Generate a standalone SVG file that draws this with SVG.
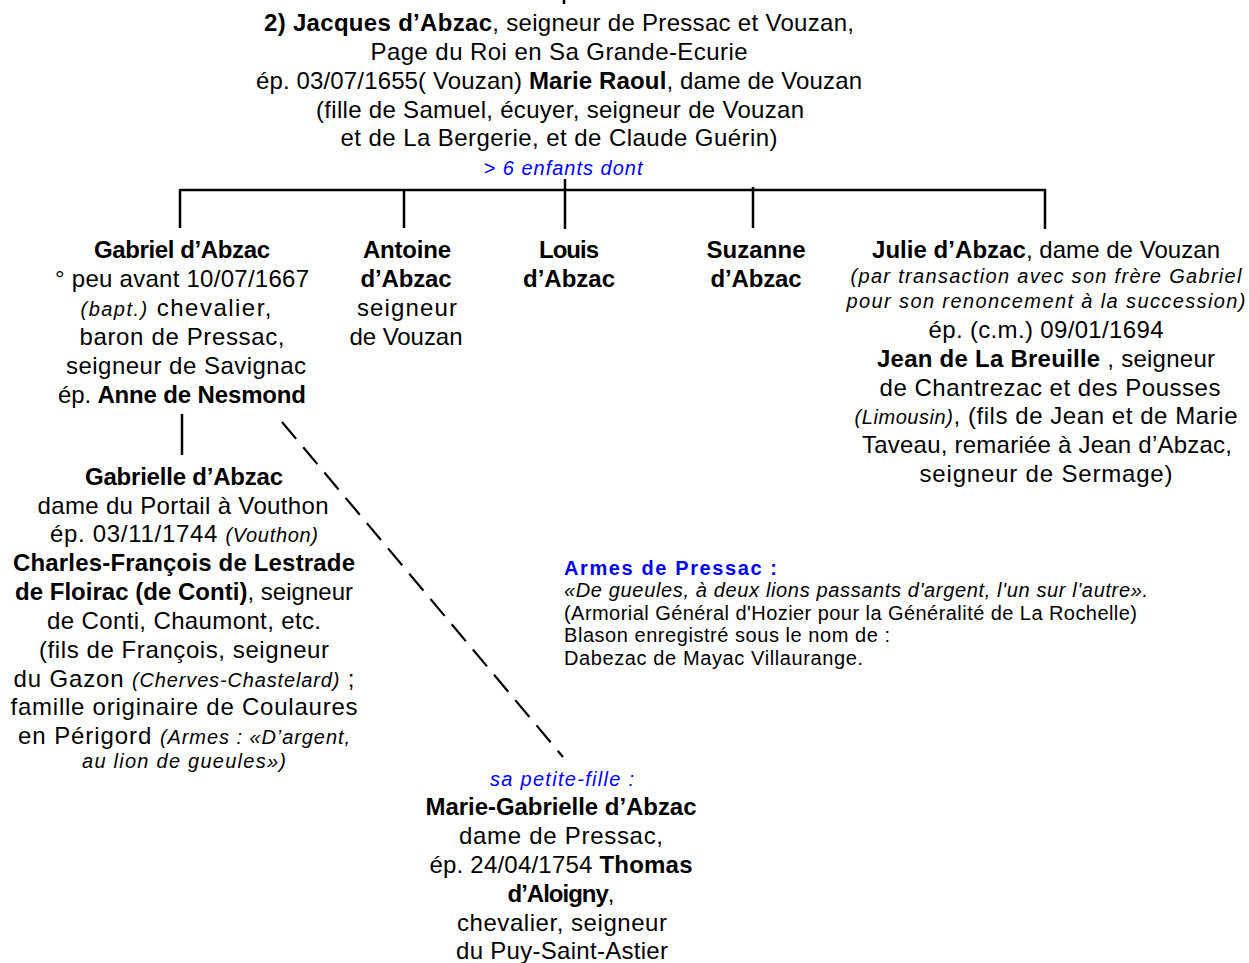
<svg xmlns="http://www.w3.org/2000/svg" width="1249" height="963" viewBox="0 0 1249 963">
<style>
text { font-family: "Liberation Sans", Arial, sans-serif; font-size: 24px; fill: #000; text-anchor: middle; }
.b { font-weight: bold; }
.i { font-style: italic; font-size: 20px; }
.blue { fill: #0000ff; }
.arm { font-size: 20px; text-anchor: start; }
.c { stroke: #000; stroke-width: 2.5; fill: none; }
.d { stroke: #000; stroke-width: 2.2; fill: none; stroke-dasharray: 22 11; }
</style>
<rect width="1249" height="963" fill="#fff"/>
<g id="connectors">
  <line class="c" x1="564" y1="0" x2="564" y2="4"/>
  <line class="c" x1="180" y1="190" x2="1046" y2="190"/>
  <line class="c" x1="565" y1="179" x2="565" y2="229"/>
  <line class="c" x1="180" y1="189" x2="180" y2="228"/>
  <line class="c" x1="404" y1="189" x2="404" y2="228"/>
  <line class="c" x1="753" y1="187" x2="753" y2="228"/>
  <line class="c" x1="1045" y1="189" x2="1045" y2="229"/>
  <line class="c" x1="182" y1="414" x2="182" y2="455"/>
  <line class="d" x1="282" y1="422" x2="563" y2="757"/>
</g>
<g id="jacques">
  <text x="559" y="31" textLength="590" lengthAdjust="spacing"><tspan class="b">2) Jacques d’Abzac</tspan>, seigneur de Pressac et Vouzan,</text>
  <text x="559" y="60" textLength="377" lengthAdjust="spacing">Page du Roi en Sa Grande-Ecurie</text>
  <text x="559" y="89" textLength="606" lengthAdjust="spacing">ép. 03/07/1655( Vouzan) <tspan class="b">Marie Raoul</tspan>, dame de Vouzan</text>
  <text x="560" y="118" textLength="488" lengthAdjust="spacing">(fille de Samuel, écuyer, seigneur de Vouzan</text>
  <text x="559" y="146" textLength="437" lengthAdjust="spacing">et de La Bergerie, et de Claude Guérin)</text>
  <text class="i blue" x="563" y="175" textLength="159" lengthAdjust="spacing">&gt; 6 enfants dont</text>
</g>
<g id="gabriel">
  <text class="b" x="182" y="258" textLength="176" lengthAdjust="spacing">Gabriel d’Abzac</text>
  <text x="182" y="287" textLength="254" lengthAdjust="spacing">° peu avant 10/07/1667</text>
  <text x="176" y="316" textLength="191" lengthAdjust="spacing"><tspan class="i">(bapt.)</tspan> chevalier,</text>
  <text x="182" y="345" textLength="205" lengthAdjust="spacing">baron de Pressac,</text>
  <text x="186" y="374" textLength="240" lengthAdjust="spacing">seigneur de Savignac</text>
  <text x="182" y="403" textLength="248" lengthAdjust="spacing">ép. <tspan class="b">Anne de Nesmond</tspan></text>
</g>
<g id="antoine">
  <text class="b" x="407" y="258" textLength="88" lengthAdjust="spacing">Antoine</text>
  <text class="b" x="406" y="287" textLength="91" lengthAdjust="spacing">d’Abzac</text>
  <text x="407" y="316" textLength="100" lengthAdjust="spacing">seigneur</text>
  <text x="406" y="345" textLength="113" lengthAdjust="spacing">de Vouzan</text>
</g>
<g id="louis">
  <text class="b" x="569" y="258" textLength="60" lengthAdjust="spacing">Louis</text>
  <text class="b" x="569" y="287" textLength="92" lengthAdjust="spacing">d’Abzac</text>
</g>
<g id="suzanne">
  <text class="b" x="756" y="258" textLength="99" lengthAdjust="spacing">Suzanne</text>
  <text class="b" x="756" y="287" textLength="91" lengthAdjust="spacing">d’Abzac</text>
</g>
<g id="julie">
  <text x="1046" y="258" textLength="348" lengthAdjust="spacing"><tspan class="b">Julie d’Abzac</tspan>, dame de Vouzan</text>
  <text class="i" x="1046" y="283" textLength="391" lengthAdjust="spacing">(par transaction avec son frère Gabriel</text>
  <text class="i" x="1046" y="308" textLength="399" lengthAdjust="spacing">pour son renoncement à la succession)</text>
  <text x="1046" y="338" textLength="235" lengthAdjust="spacing">ép. (c.m.) 09/01/1694</text>
  <text x="1046" y="367" textLength="338" lengthAdjust="spacing"><tspan class="b">Jean de La Breuille</tspan> , seigneur</text>
  <text x="1050" y="396" textLength="341" lengthAdjust="spacing">de Chantrezac et des Pousses</text>
  <text x="1046" y="424" textLength="383" lengthAdjust="spacing"><tspan class="i">(Limousin)</tspan>, (fils de Jean et de Marie</text>
  <text x="1047" y="453" textLength="370" lengthAdjust="spacing">Taveau, remariée à Jean d’Abzac,</text>
  <text x="1046" y="482" textLength="253" lengthAdjust="spacing">seigneur de Sermage)</text>
</g>
<g id="gabrielle">
  <text class="b" x="184" y="485" textLength="198" lengthAdjust="spacing">Gabrielle d’Abzac</text>
  <text x="183" y="514" textLength="291" lengthAdjust="spacing">dame du Portail à Vouthon</text>
  <text x="184" y="542" textLength="268" lengthAdjust="spacing">ép. 03/11/1744 <tspan class="i">(Vouthon)</tspan></text>
  <text class="b" x="184" y="571" textLength="342" lengthAdjust="spacing">Charles-François de Lestrade</text>
  <text x="184" y="600" textLength="338" lengthAdjust="spacing"><tspan class="b">de Floirac (de Conti)</tspan>, seigneur</text>
  <text x="184" y="629" textLength="274" lengthAdjust="spacing">de Conti, Chaumont, etc.</text>
  <text x="184" y="658" textLength="290" lengthAdjust="spacing">(fils de François, seigneur</text>
  <text x="184" y="687" textLength="341" lengthAdjust="spacing">du Gazon <tspan class="i">(Cherves-Chastelard)</tspan> ;</text>
  <text x="184" y="715" textLength="347" lengthAdjust="spacing">famille originaire de Coulaures</text>
  <text x="184" y="744" textLength="332" lengthAdjust="spacing">en Périgord <tspan class="i">(Armes : «D’argent,</tspan></text>
  <text class="i" x="184" y="768" textLength="204" lengthAdjust="spacing">au lion de gueules»)</text>
</g>
<g id="armes">
  <text class="arm b blue" x="564" y="575" textLength="213" lengthAdjust="spacing">Armes de Pressac :</text>
  <text class="arm i" x="564" y="597" textLength="584" lengthAdjust="spacing">«De gueules, à deux lions passants d'argent, l'un sur l'autre».</text>
  <text class="arm" x="564" y="620" textLength="573" lengthAdjust="spacing">(Armorial Général d'Hozier pour la Généralité de La Rochelle)</text>
  <text class="arm" x="564" y="642" textLength="326" lengthAdjust="spacing">Blason enregistré sous le nom de :</text>
  <text class="arm" x="564" y="665" textLength="299" lengthAdjust="spacing">Dabezac de Mayac Villaurange.</text>
</g>
<g id="marie-gabrielle">
  <text class="i blue" x="562" y="786" textLength="144" lengthAdjust="spacing">sa petite-fille :</text>
  <text class="b" x="561" y="815" textLength="271" lengthAdjust="spacing">Marie-Gabrielle d’Abzac</text>
  <text x="561" y="844" textLength="204" lengthAdjust="spacing">dame de Pressac,</text>
  <text x="561" y="873" textLength="263" lengthAdjust="spacing">ép. 24/04/1754 <tspan class="b">Thomas</tspan></text>
  <text x="561" y="902" textLength="107" lengthAdjust="spacing"><tspan class="b">d’Aloigny</tspan>,</text>
  <text x="562" y="931" textLength="210" lengthAdjust="spacing">chevalier, seigneur</text>
  <text x="562" y="959" textLength="212" lengthAdjust="spacing">du Puy-Saint-Astier</text>
</g>
</svg>
